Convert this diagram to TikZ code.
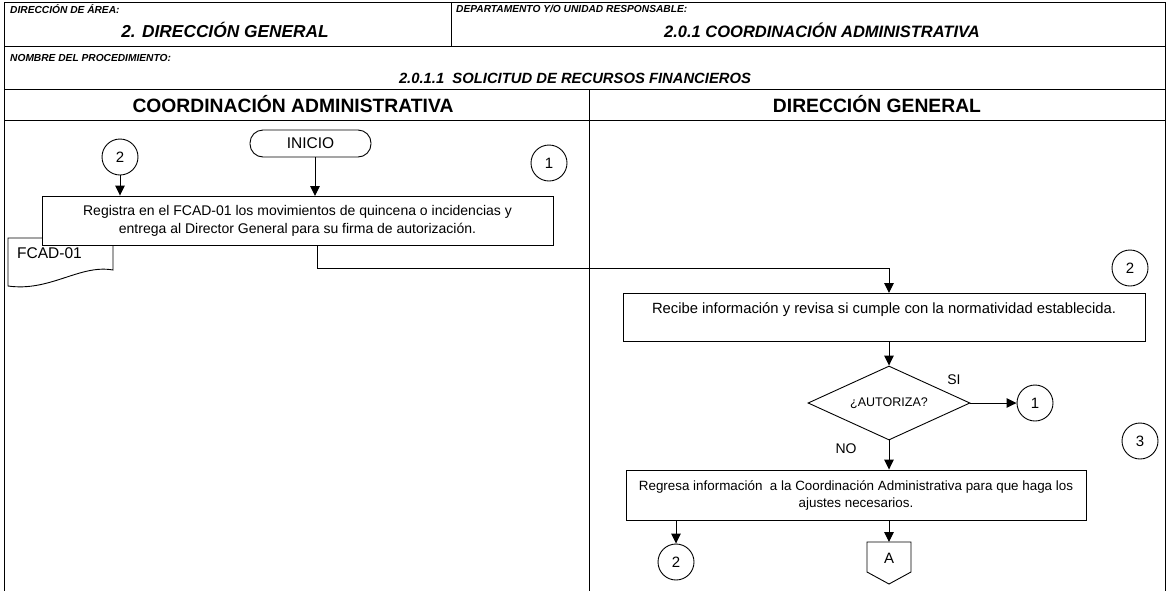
\documentclass[tikz,border=0pt]{standalone}
\usepackage{fontspec}
\setmainfont{Liberation Sans}
\usetikzlibrary{arrows.meta,shapes.geometric}
\begin{document}
\begin{tikzpicture}[x=1pt,y=-1pt,
  frame/.style={line width=1pt},
  proc/.style={draw,fill=white,line width=0.9pt,inner sep=0pt,align=center},
  conn/.style={draw,circle,line width=0.9pt,minimum size=36pt,inner sep=0pt,font=\fontsize{15}{17}\selectfont},
  arr/.style={line width=1pt,-{Triangle[length=10pt,width=9.5pt]}},
  smalllab/.style={font=\fontsize{10.2}{12}\bfseries\itshape\selectfont,anchor=west,inner sep=0pt},
  biglab/.style={font=\fontsize{16.5}{18}\bfseries\itshape\selectfont,inner sep=0pt},
  lanehead/.style={font=\fontsize{19.3}{21}\bfseries\selectfont,inner sep=0pt},
  plain/.style={font=\fontsize{14}{16}\selectfont,inner sep=0pt}
]
\useasboundingbox (0,0) rectangle (1167,590);
% frame
\draw[frame] (4,592) -- (4,2) -- (1165,2) -- (1165,592);
\draw[frame] (4,46) -- (1165,46);
\draw[frame] (4,89) -- (1165,89);
\draw[frame] (4,120) -- (1165,120);
\draw[frame] (451,2) -- (451,46);
\draw[frame] (589,89) -- (589,592);
% header texts
\node[smalllab] (hArea) at (10,9) {DIRECCIÓN DE ÁREA:};
\node[biglab,font=\fontsize{17.3}{19}\bfseries\itshape\selectfont] (hAreaV) at (225,30) {2. DIRECCIÓN GENERAL};
\node[smalllab] (hDep) at (456,9) {DEPARTAMENTO Y/O UNIDAD RESPONSABLE:};
\node[biglab] (hDepV) at (822,30) {2.0.1 COORDINACIÓN ADMINISTRATIVA};
\node[smalllab] (hProc) at (10,58) {NOMBRE DEL PROCEDIMIENTO:};
\node[font=\fontsize{14.8}{16}\bfseries\itshape\selectfont,inner sep=0pt] (hProcV) at (575,78) {2.0.1.1\ \ SOLICITUD DE RECURSOS FINANCIEROS};
\node[lanehead] (lane1) at (293,104) {COORDINACIÓN ADMINISTRATIVA};
\node[lanehead] (lane2) at (877,104) {DIRECCIÓN GENERAL};
% document shape (behind box)
\draw[line width=0.9pt,fill=white] (8,238) -- (113,238) -- (113,270)
   .. controls (80,264) and (50,292) .. (8,286) -- cycle;
\node[plain,anchor=west,font=\fontsize{15.5}{17}\selectfont] (doc) at (17,253) {FCAD-01};
% nodes
\node[conn] (c2a) at (120,157) {2};
\node[draw,rounded corners=13pt,line width=0.9pt,minimum width=121pt,minimum height=27pt,inner sep=0pt,font=\fontsize{15.5}{17}\selectfont] (inicio) at (310.5,143.5) {INICIO};
\node[conn] (c1a) at (549,163) {1};
\node[proc,minimum width=511pt,minimum height=49pt,font=\fontsize{14}{18}\selectfont] (b1) at (297.5,220.5)
  {Registra en el FCAD-01 los movimientos de quincena o incidencias y\\entrega al Director General para su firma de autorización.};
\node[conn] (c2b) at (1130,268) {2};
\node[proc,minimum width=522pt,minimum height=48pt,font=\fontsize{14.8}{18}\selectfont] (b2) at (884,317)
  {Recibe información y revisa si cumple con la normatividad establecida.\\\mbox{}};
\node[draw,diamond,line width=0.9pt,minimum width=162pt,minimum height=74pt,aspect=2.19,inner sep=0pt,font=\fontsize{12.5}{14}\selectfont] (d1) at (889,403) {¿AUTORIZA?};
\node[conn] (c1b) at (1035,403) {1};
\node[plain] (si) at (954,380) {SI};
\node[plain] (no) at (846,449) {NO};
\node[conn] (c3) at (1140,441) {3};
\node[proc,minimum width=460pt,minimum height=50pt,font=\fontsize{13.4}{17}\selectfont] (b3) at (856,495)
  {Regresa información\ \ a la Coordinación Administrativa para que haga los\\ajustes necesarios.};
\node[conn] (c2c) at (676,562) {2};
% off-page connector A
\draw[line width=0.9pt] (867,542) -- (911,542) -- (911,572) -- (889,584) -- (867,572) -- cycle;
\coordinate (Atop) at (889,542);
\node[plain,font=\fontsize{15}{17}\selectfont] (A) at (889,558) {A};
% connectors
\draw[arr] (c2a.south) -- (c2a.south |- b1.north);
\draw[arr] (inicio.south -| 315,0) -- (315,196);
\draw[arr] (317,245) -- (317,268) -- (889,268) -- (889,293);
\draw[arr] (b2.south -| d1.north) -- (d1.north);
\draw[arr] (d1.east) -- (c1b.west);
\draw[arr] (d1.south) -- (d1.south |- b3.north);
\draw[arr] (c2c.north |- b3.south) -- (c2c.north);
\draw[arr] (Atop |- b3.south) -- (Atop);
\end{tikzpicture}
\end{document}
